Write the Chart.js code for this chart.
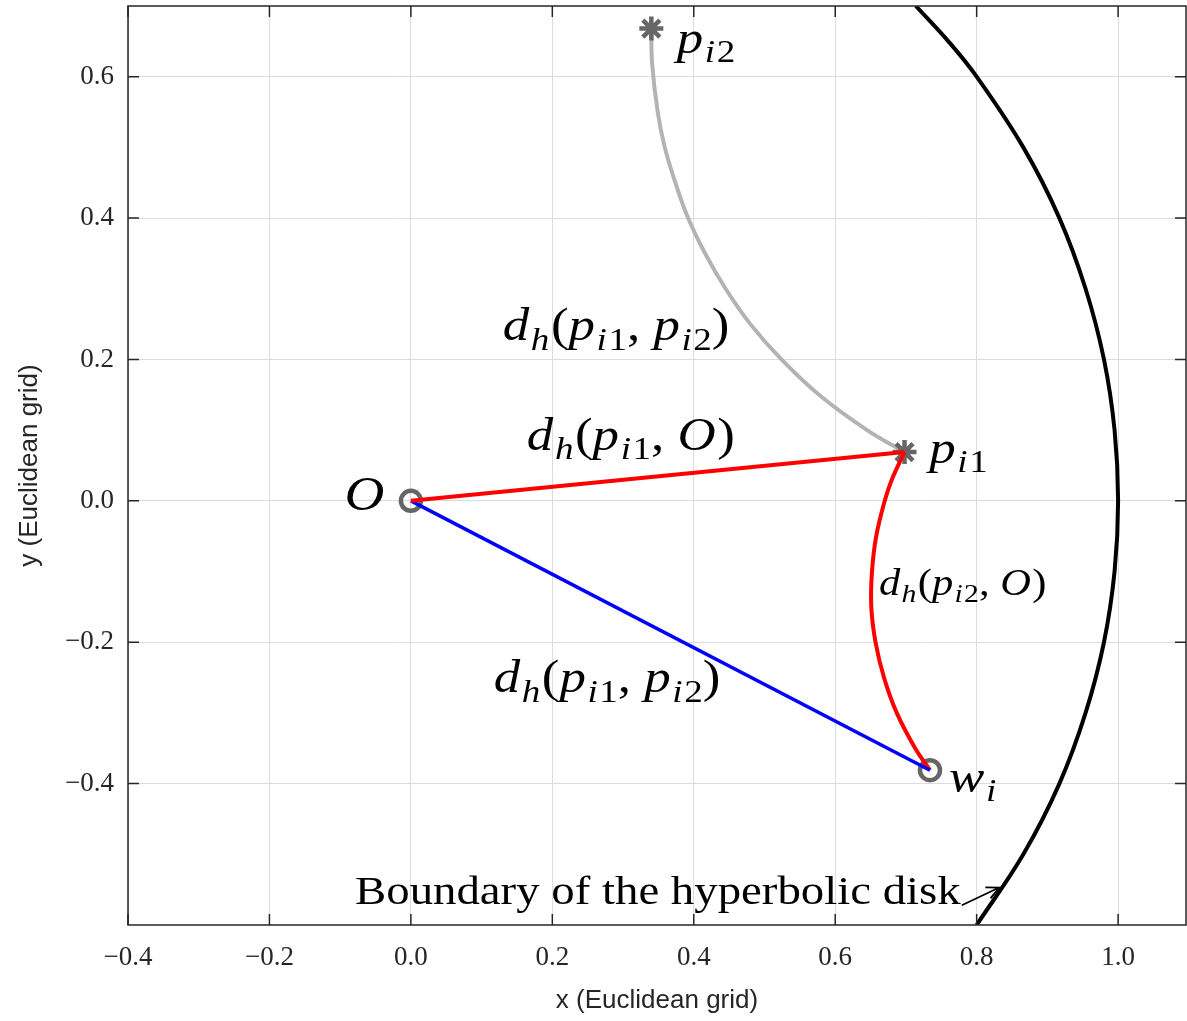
<!DOCTYPE html>
<html>
<head>
<meta charset="utf-8">
<title>Hyperbolic disk distances</title>
<script src="https://cdn.jsdelivr.net/npm/chart.js@4.4.1/dist/chart.umd.min.js"></script>
<style>
  html, body { margin: 0; padding: 0; background: #ffffff; }
  #wrap { width: 1187px; height: 1021px; }
</style>
</head>
<body>
<div id="wrap"><canvas id="chart"></canvas></div>
<script>
// tick labels of both axes
const xTicks = [-0.4, -0.2, 0.0, 0.2, 0.4, 0.6, 0.8, 1.0];
const yTicks = [-0.4, -0.2, 0.0, 0.2, 0.4, 0.6];

// marked points (x, y)
const pointO = [0.0, 0.0];
const pointP1 = [0.698, 0.069];
const pointP2 = [0.340, 0.668];
const pointW = [0.734, -0.381];

// gray geodesic p_i2 -> p_i1
const grayArcX = [0.340, 0.341, 0.349, 0.359, 0.374, 0.392, 0.416, 0.445, 0.480, 0.524, 0.577, 0.645, 0.698];
const grayArcY = [0.668, 0.620, 0.550, 0.500, 0.450, 0.400, 0.350, 0.300, 0.250, 0.200, 0.150, 0.100, 0.069];

// red geodesic p_i1 -> w_i
const redArcX = [0.698, 0.680, 0.670, 0.658, 0.652, 0.651, 0.657, 0.669, 0.687, 0.713, 0.734];
const redArcY = [0.069, 0.030, 0.000, -0.050, -0.100, -0.150, -0.200, -0.250, -0.300, -0.350, -0.381];

// boundary of the disk (visible part)
const diskX = [0.714, 0.760, 0.800, 0.866, 0.917, 0.954, 0.980, 0.995, 1.000, 0.995, 0.980, 0.954, 0.917, 0.866, 0.800];
const diskY = [0.700, 0.650, 0.600, 0.500, 0.400, 0.300, 0.200, 0.100, 0.000, -0.100, -0.200, -0.300, -0.400, -0.500, -0.600];

function zip(xs, ys) {
    return xs.map((x, i) => ({ x: x, y: ys[i] }));
}
function pt(p) {
    return { x: p[0], y: p[1] };
}

const SERIF = '"Liberation Serif", "DejaVu Serif", serif';
const SANS = '"Liberation Sans", Arial, sans-serif';
const AXIS_COLOR = '#262626';

// math labels: parts are [text, style] with i = italic, r = roman, is / s = subscripts
const mathLabels = [
    { x: -0.094, y: -0.013, size: 48, parts: [['O', 'i']] },
    { x: 0.376, y: 0.634, size: 46, parts: [['p', 'i'], ['i', 'is'], ['2', 's']] },
    { x: 0.733, y: 0.054, size: 46, parts: [['p', 'i'], ['i', 'is'], ['1', 's']] },
    { x: 0.761, y: -0.412, size: 46, parts: [['w', 'i'], ['i', 'is']] },
    { x: 0.130, y: 0.227, size: 46, parts: [['d', 'i'], ['h', 'is'], ['(', 'r'], ['p', 'i'], ['i', 'is'], ['1', 's'], [', ', 'r'], ['p', 'i'], ['i', 'is'], ['2', 's'], [')', 'r']] },
    { x: 0.164, y: 0.072, size: 46, parts: [['d', 'i'], ['h', 'is'], ['(', 'r'], ['p', 'i'], ['i', 'is'], ['1', 's'], [', ', 'r'], ['O', 'i'], [')', 'r']] },
    { x: 0.662, y: -0.133, size: 37, parts: [['d', 'i'], ['h', 'is'], ['(', 'r'], ['p', 'i'], ['i', 'is'], ['2', 's'], [', ', 'r'], ['O', 'i'], [')', 'r']] },
    { x: 0.117, y: -0.271, size: 46, parts: [['d', 'i'], ['h', 'is'], ['(', 'r'], ['p', 'i'], ['i', 'is'], ['1', 's'], [', ', 'r'], ['p', 'i'], ['i', 'is'], ['2', 's'], [')', 'r']] }
];

// the TeX font of the original is wider than Times, so stretch a little
const H_STRETCH = 1.15;

function drawMath(ctx, px, py, size, parts) {
    ctx.save();
    ctx.translate(px, py);
    ctx.scale(H_STRETCH, 1);
    let cx = 0;
    parts.forEach(([text, style]) => {
        const sub = style === 'is' || style === 's';
        const italic = style === 'i' || style === 'is';
        const s = sub ? size * 0.7 : size;
        ctx.font = (italic ? 'italic ' : '') + s + 'px ' + SERIF;
        ctx.fillText(text, cx, sub ? size * 0.2 : 0);
        cx += ctx.measureText(text).width + (italic ? size * 0.03 : 0);
    });
    ctx.restore();
}

const annotations = {
    id: 'annotations',
    afterDatasetsDraw(chart) {
        const ctx = chart.ctx;
        const xs = chart.scales.x;
        const ys = chart.scales.y;
        ctx.save();
        ctx.fillStyle = '#000000';
        ctx.textBaseline = 'alphabetic';
        ctx.textAlign = 'left';
        mathLabels.forEach(l => {
            drawMath(ctx, xs.getPixelForValue(l.x), ys.getPixelForValue(l.y), l.size, l.parts);
        });

        // boundary note with arrow
        ctx.save();
        ctx.translate(xs.getPixelForValue(-0.079), ys.getPixelForValue(-0.571));
        ctx.scale(1.2, 1);
        ctx.font = '39px ' + SERIF;
        ctx.fillText('Boundary of the hyperbolic disk', 0, 0);
        ctx.restore();
        const x0 = xs.getPixelForValue(0.779), y0 = ys.getPixelForValue(-0.572);
        const x1 = xs.getPixelForValue(0.832), y1 = ys.getPixelForValue(-0.547);
        const ang = Math.atan2(y1 - y0, x1 - x0);
        ctx.strokeStyle = '#000000';
        ctx.lineWidth = 1.8;
        ctx.beginPath();
        ctx.moveTo(x0, y0);
        ctx.lineTo(x1, y1);
        ctx.moveTo(x1 - 14 * Math.cos(ang - 0.45), y1 - 14 * Math.sin(ang - 0.45));
        ctx.lineTo(x1, y1);
        ctx.lineTo(x1 - 14 * Math.cos(ang + 0.45), y1 - 14 * Math.sin(ang + 0.45));
        ctx.stroke();
        ctx.restore();
    },
    afterDraw(chart) {
        // box and inward tick marks
        const ctx = chart.ctx;
        const a = chart.chartArea;
        const xs = chart.scales.x;
        const ys = chart.scales.y;
        ctx.save();
        ctx.strokeStyle = AXIS_COLOR;
        ctx.lineWidth = 1.5;
        ctx.strokeRect(a.left, a.top, a.right - a.left, a.bottom - a.top);
        ctx.beginPath();
        xTicks.forEach(v => {
            const p = xs.getPixelForValue(v);
            ctx.moveTo(p, a.bottom); ctx.lineTo(p, a.bottom - 11);
            ctx.moveTo(p, a.top); ctx.lineTo(p, a.top + 11);
        });
        yTicks.forEach(v => {
            const p = ys.getPixelForValue(v);
            ctx.moveTo(a.left, p); ctx.lineTo(a.left + 11, p);
            ctx.moveTo(a.right, p); ctx.lineTo(a.right - 11, p);
        });
        ctx.stroke();
        ctx.restore();
    }
};

function tickLabel(v) {
    const s = Math.abs(v).toFixed(1);
    return v < -1e-9 ? '\u2212' + s : s;
}

function noPadding(s) {
    s.paddingTop = 0;
    s.paddingBottom = 0;
    s.paddingLeft = 0;
    s.paddingRight = 0;
}

new Chart(document.getElementById('chart'), {
    type: 'scatter',
    data: {
        datasets: [{
            label: 'O to p_i1',
            data: [pt(pointO), pt(pointP1)],
            showLine: true,
            borderColor: '#ff0000',
            borderWidth: 4,
            pointRadius: 0,
            order: 1
        }, {
            label: 'O to w_i',
            data: [pt(pointO), pt(pointW)],
            showLine: true,
            borderColor: '#0000ff',
            borderWidth: 3.5,
            pointRadius: 0,
            order: 2
        }, {
            label: 'p_i1 to w_i',
            data: zip(redArcX, redArcY),
            showLine: true,
            tension: 0.4,
            borderColor: '#ff0000',
            borderWidth: 4,
            pointRadius: 0,
            order: 3
        }, {
            label: 'p_i2 to p_i1',
            data: zip(grayArcX, grayArcY),
            showLine: true,
            tension: 0.4,
            borderColor: '#b3b3b3',
            borderWidth: 4,
            pointRadius: 0,
            order: 6
        }, {
            label: 'boundary',
            data: zip(diskX, diskY),
            showLine: true,
            tension: 0.4,
            borderColor: '#000000',
            borderWidth: 4,
            pointRadius: 0,
            order: 4
        }, {
            label: 'circles',
            data: [pt(pointO), pt(pointW)],
            showLine: false,
            pointStyle: 'circle',
            pointRadius: 10,
            pointBorderWidth: 4.5,
            pointBorderColor: '#666666',
            pointBackgroundColor: 'rgba(0,0,0,0)',
            order: 5
        }, {
            label: 'stars',
            data: [pt(pointP1), pt(pointP2)],
            showLine: false,
            pointStyle: 'star',
            pointRadius: 12,
            pointBorderWidth: 4.5,
            pointBorderColor: '#666666',
            pointBackgroundColor: '#666666',
            order: 5
        }]
    },
    options: {
        responsive: true,
        maintainAspectRatio: false,
        animation: false,
        events: [],
        layout: {
            autoPadding: false,
            padding: { top: 6, right: 1, left: 0, bottom: 0 }
        },
        plugins: {
            legend: { display: false },
            tooltip: { enabled: false }
        },
        scales: {
            x: {
                type: 'linear',
                min: -0.4,
                max: 1.096,
                afterBuildTicks: s => { s.ticks = xTicks.map(v => ({ value: v })); },
                afterFit: s => { s.height = 96; noPadding(s); },
                grid: { color: '#dcdcdc', lineWidth: 1, drawTicks: false },
                border: { display: false },
                ticks: {
                    padding: 17,
                    color: AXIS_COLOR,
                    font: { family: SERIF, size: 27 },
                    maxRotation: 0,
                    callback: v => tickLabel(v)
                },
                title: {
                    display: true,
                    text: 'x (Euclidean grid)',
                    color: AXIS_COLOR,
                    font: { family: SANS, size: 26 },
                    padding: { top: 0, bottom: 5 }
                }
            },
            y: {
                type: 'linear',
                min: -0.6,
                max: 0.7,
                afterBuildTicks: s => { s.ticks = yTicks.map(v => ({ value: v })); },
                afterFit: s => { s.width = 128; noPadding(s); },
                grid: { color: '#dcdcdc', lineWidth: 1, drawTicks: false },
                border: { display: false },
                ticks: {
                    padding: 14,
                    color: AXIS_COLOR,
                    font: { family: SERIF, size: 27 },
                    callback: v => tickLabel(v)
                },
                title: {
                    display: true,
                    text: 'y (Euclidean grid)',
                    color: AXIS_COLOR,
                    font: { family: SANS, size: 26 },
                    padding: { top: 14, bottom: 0 }
                }
            }
        }
    },
    plugins: [annotations]
});
</script>
</body>
</html>
